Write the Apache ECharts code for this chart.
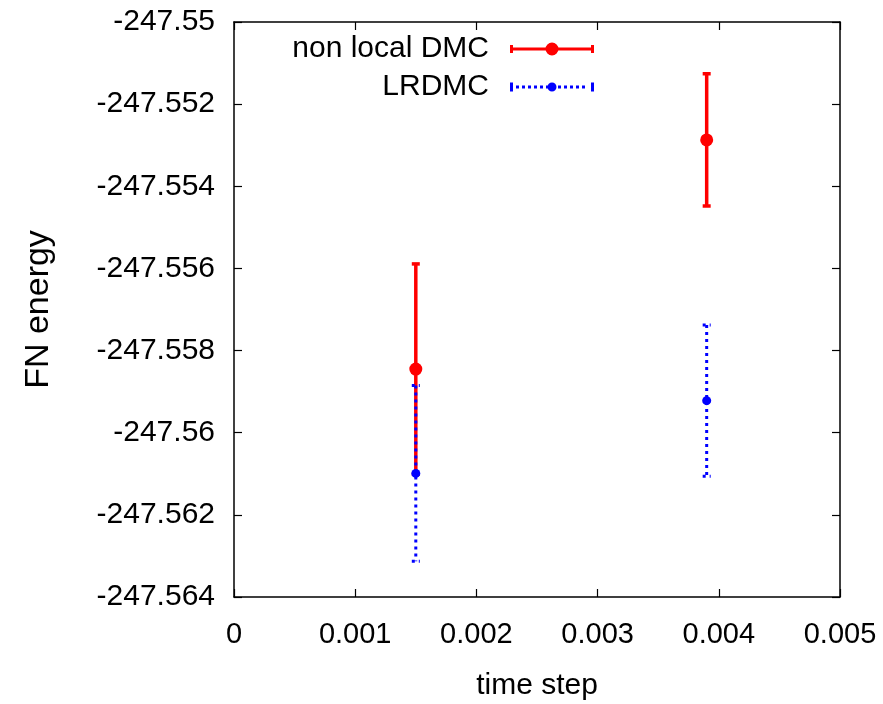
<!DOCTYPE html>
<html>
<head>
<meta charset="utf-8">
<script src="https://cdn.jsdelivr.net/npm/echarts@6/dist/echarts.min.js"></script>
<style>html,body{margin:0;padding:0;background:#fff}#c{width:883px;height:704px}</style>
</head>
<body>
<div id="c"></div>
<script>
// ---- data ----
const seriesNames = ['non local DMC', 'LRDMC'];
const dmcX = [0.0015, 0.0039];
const dmcY = [-247.55845, -247.55287];
const dmcErr = [0.00256, 0.00161];
const lrX = [0.0015, 0.0039];
const lrY = [-247.56099, -247.55922];
const lrErr = [0.00214, 0.00184];
const xTicks = { min: 0, max: 0.005, interval: 0.001 };
const yTicks = { min: -247.564, max: -247.55, interval: 0.002 };
const xName = 'time step';
const yName = 'FN energy';

const FONT = '"Liberation Sans", Arial, Helvetica, sans-serif';
const RED = '#ff0000', BLUE = '#0000ff';

function rows(xs, ys, es) { return xs.map((x, i) => [x, ys[i], es[i]]); }

function errRender(color, lw, dash, r) {
  return function (params, api) {
    const x = api.value(0), y = api.value(1), e = api.value(2);
    const t = api.coord([x, y + e]), b = api.coord([x, y - e]), m = api.coord([x, y]);
    const st = { stroke: color, lineWidth: lw, lineDash: dash, fill: null };
    const cw = 4;
    return {
      type: 'group',
      children: [
        { type: 'line', shape: { x1: t[0], y1: t[1], x2: b[0], y2: b[1] }, style: st },
        { type: 'line', shape: { x1: t[0] - cw, y1: t[1], x2: t[0] + cw, y2: t[1] }, style: st },
        { type: 'line', shape: { x1: b[0] - cw, y1: b[1], x2: b[0] + cw, y2: b[1] }, style: st },
        { type: 'circle', shape: { cx: m[0], cy: m[1], r: r }, style: { fill: color } }
      ]
    };
  };
}

// legend icons (84 x 13 and 84 x 9)
const redIcon = 'path://M0 2.5 h3 v8 h-3 Z M81 2.5 h3 v8 h-3 Z M0 5 h84 v3 h-84 Z ' +
  'M35.5 6.5 A6.5 6.5 0 1 1 48.5 6.5 A6.5 6.5 0 1 1 35.5 6.5 Z';
let bp = 'M0 0 h3 v9 h-3 Z M81 0 h3 v9 h-3 Z ';
for (let px = 6; px <= 76; px += 6) bp += 'M' + px + ' 3 h3 v3 h-3 Z ';
bp += 'M37.5 4.5 A4.5 4.5 0 1 1 46.5 4.5 A4.5 4.5 0 1 1 37.5 4.5 Z';
const blueIcon = 'path://' + bp;

const fmtY = v => String(parseFloat(Number(v).toFixed(4)));
const fmtX = v => String(parseFloat(Number(v).toFixed(4)));

const axisLineStyle = { color: '#000', width: 1.5 };

const chart = echarts.init(document.getElementById('c'), null, { renderer: 'canvas' });
chart.setOption({
  animation: false,
  backgroundColor: '#fff',
  grid: { left: 234, right: 43, top: 22, bottom: 107, containLabel: false, outerBoundsMode: 'none' },
  legend: {
    orient: 'vertical', right: 289, top: 34, align: 'right',
    itemWidth: 84, itemHeight: 13, itemGap: 8, padding: 0,
    selectedMode: false,
    textStyle: { fontSize: 30, fontFamily: FONT, color: '#000', padding: [0, 16, 0, 0] },
    data: [{ name: seriesNames[0], icon: redIcon }, { name: seriesNames[1], icon: blueIcon }]
  },
  xAxis: [{
    type: 'value', min: xTicks.min, max: xTicks.max, interval: xTicks.interval,
    name: xName, nameLocation: 'middle', nameGap: 74,
    nameTextStyle: { fontSize: 30, fontFamily: FONT, color: '#000' },
    axisLine: { show: true, onZero: false, lineStyle: axisLineStyle },
    axisTick: { show: true, inside: true, length: 8, lineStyle: { color: '#000', width: 1.2 } },
    axisLabel: { fontSize: 29, fontFamily: FONT, color: '#000', margin: 23, formatter: fmtX },
    splitLine: { show: false }
  }, {
    type: 'value', position: 'top', min: xTicks.min, max: xTicks.max, interval: xTicks.interval,
    axisLine: { show: true, onZero: false, lineStyle: axisLineStyle },
    axisTick: { show: true, inside: true, length: 8, lineStyle: { color: '#000', width: 1.2 } },
    axisLabel: { show: false }, splitLine: { show: false }
  }],
  yAxis: [{
    type: 'value', min: yTicks.min, max: yTicks.max, interval: yTicks.interval,
    name: yName, nameLocation: 'middle', nameGap: 178, nameRotate: 90,
    nameTextStyle: { fontSize: 34, fontFamily: FONT, color: '#000' },
    axisLine: { show: true, onZero: false, lineStyle: axisLineStyle },
    axisTick: { show: true, inside: true, length: 8, lineStyle: { color: '#000', width: 1.2 } },
    axisLabel: { fontSize: 30, fontFamily: FONT, color: '#000', margin: 19, formatter: fmtY },
    splitLine: { show: false }
  }, {
    type: 'value', position: 'right', min: yTicks.min, max: yTicks.max, interval: yTicks.interval,
    axisLine: { show: true, onZero: false, lineStyle: axisLineStyle },
    axisTick: { show: true, inside: true, length: 8, lineStyle: { color: '#000', width: 1.2 } },
    axisLabel: { show: false }, splitLine: { show: false }
  }],
  series: [{
    name: seriesNames[0], type: 'custom', xAxisIndex: 0, yAxisIndex: 0,
    itemStyle: { color: RED },
    encode: { x: 0, y: 1 },
    renderItem: errRender(RED, 3.5, null, 6.5),
    data: rows(dmcX, dmcY, dmcErr),
    silent: true
  }, {
    name: seriesNames[1], type: 'custom', xAxisIndex: 0, yAxisIndex: 0,
    itemStyle: { color: BLUE },
    encode: { x: 0, y: 1 },
    renderItem: errRender(BLUE, 3, [3, 4], 4.5),
    data: rows(lrX, lrY, lrErr),
    silent: true
  }]
});
</script>
</body>
</html>
